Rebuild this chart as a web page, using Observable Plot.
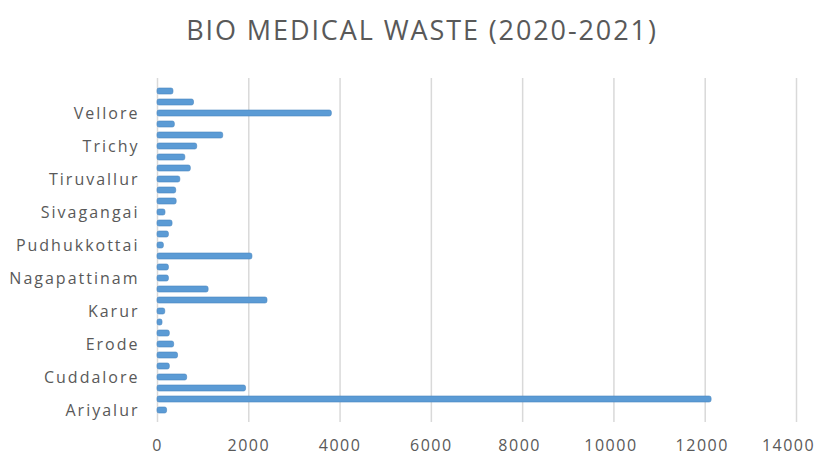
<!DOCTYPE html>
<html>
<head>
<meta charset="utf-8">
<script src="https://cdn.jsdelivr.net/npm/d3@7"></script>
<script src="https://cdn.jsdelivr.net/npm/@observablehq/plot@0.6"></script>
<style>
  html, body { margin: 0; padding: 0; background: #fff; }
  #title { height: 60px; line-height: 60px; padding-left: 26px; text-align: center; font-family: "Open Sans", sans-serif; font-size: 27px; letter-spacing: 1.9px; color: #595959; white-space: nowrap; overflow: hidden; }
  svg { display: block; overflow: visible; }
  svg text { letter-spacing: 1.5px; }
  svg g[aria-label="y-axis tick label"] text { letter-spacing: 2px; }
</style>
</head>
<body>
<div id="title">BIO MEDICAL WASTE (2020-2021)</div>
<div id="chart"></div>
<script>
const districts = [
  "Ariyalur", "Chennai", "Coimbatore", "Cuddalore", "Dharmapuri", "Dindigul",
  "Erode", "Kanchipuram", "Kanyakumari", "Karur", "Krishnagiri", "Madurai",
  "Nagapattinam", "Namakkal", "Perambalur", "Pudhukkottai", "Ramanathapuram", "Salem",
  "Sivagangai", "Thanjavur", "Theni", "Tiruvallur", "Tiruvannamalai", "Tiruvarur",
  "Trichy", "Tirunelveli", "Tuticorin", "Vellore", "Villupuram", "Virudhunagar"
];
const waste = [
  210, 12140, 1940, 650, 270, 450,
  365, 270, 110, 170, 2410, 1120,
  250, 250, 2080, 140, 250, 330,
  175, 420, 410, 500, 730, 610,
  870, 1440, 380, 3820, 800, 350
];
const xTicks = [0, 2000, 4000, 6000, 8000, 10000, 12000, 14000];
const shownLabels = districts.filter((d, i) => i % 3 === 0);

const data = districts.map((d, i) => ({district: d, value: waste[i]}));
const fmt = d => String(d);

const chart = Plot.plot({
  width: 818,
  height: 396,
  marginTop: 18,
  marginBottom: 34,
  marginLeft: 157,
  marginRight: 22,
  style: {fontFamily: "'Open Sans', sans-serif", fontSize: "16px", color: "#595959", background: "#fff", overflow: "visible"},
  x: {domain: [0, 14000], label: null},
  y: {domain: districts.slice().reverse(), label: null, paddingInner: 0.46, paddingOuter: 0.383},
  marks: [
    Plot.ruleX(xTicks, {stroke: "#d9d9d9", strokeWidth: 1.5}),
    Plot.barX(data, {y: "district", x: "value", fill: "#5B9BD5", stroke: "#4a86c0", strokeWidth: 0.6, rx: 2}),
    Plot.axisY(shownLabels, {tickSize: 0, tickPadding: 18, label: null}),
    Plot.axisX(xTicks.slice(0, 4), {tickSize: 0, tickPadding: 17.5, label: null, tickFormat: fmt}),
    Plot.axisX(xTicks.slice(4, 7), {tickSize: 0, tickPadding: 17.5, label: null, tickFormat: fmt, dx: -3}),
    Plot.axisX(xTicks.slice(7), {tickSize: 0, tickPadding: 17.5, label: null, tickFormat: fmt, dx: -8})
  ]
});
document.getElementById("chart").appendChild(chart);
</script>
</body>
</html>
